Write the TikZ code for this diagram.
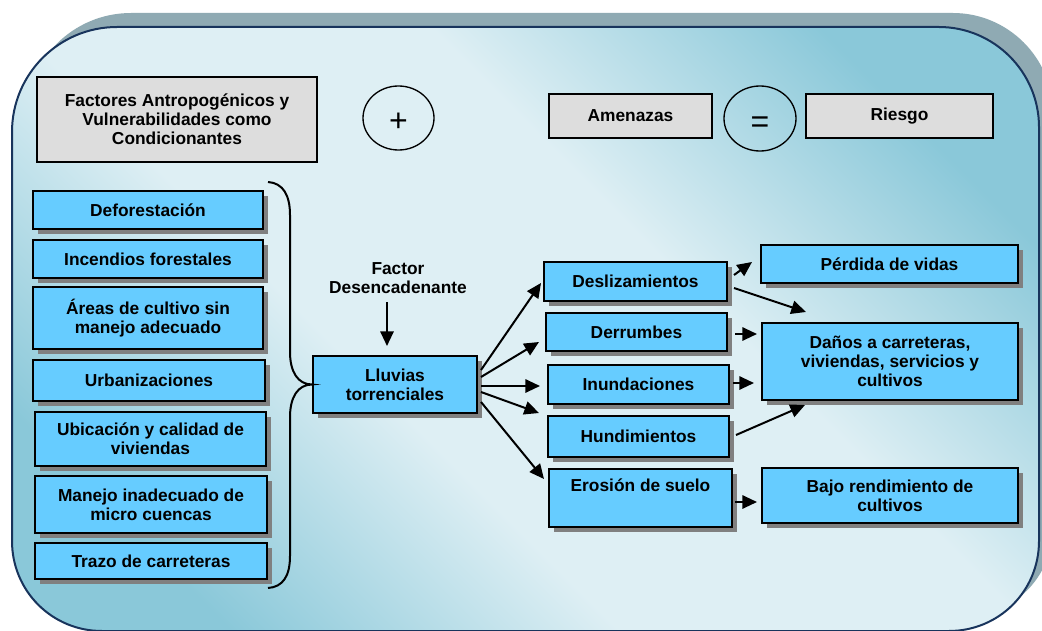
\documentclass[tikz,border=0pt]{standalone}
\usepackage{fontspec}
\setmainfont{Liberation Sans}
\usetikzlibrary{shapes.geometric,arrows.meta,calc,shadows}
\definecolor{bgdark}{RGB}{138,200,217}
\definecolor{bglight}{RGB}{222,239,244}
\definecolor{framec}{RGB}{24,52,92}
\definecolor{shadowc}{RGB}{143,170,179}
\definecolor{boxblue}{RGB}{102,204,255}
\definecolor{boxgray}{RGB}{221,221,221}
\pgfdeclareverticalshading{bgshade}{100bp}{color(0bp)=(bgdark); color(24bp)=(bgdark);
  color(41bp)=(bglight); color(59bp)=(bglight); color(76bp)=(bgdark); color(100bp)=(bgdark)}
\begin{document}
\begin{tikzpicture}[x=0.75pt,y=-0.75pt,
  font=\fontsize{13}{14.25}\selectfont\bfseries,
  fbox/.style={draw=black, line width=1.5pt, fill=boxblue, align=center, inner sep=1pt,
    drop shadow={shadow xshift=3.75pt, shadow yshift=-3.75pt, fill=black!50, opacity=1}},
  gbox/.style={draw=black, line width=1.3pt, fill=boxgray, align=center, inner sep=1pt},
  circ/.style={ellipse, draw=black, line width=1pt, inner sep=0pt},
  optext/.style={font=\fontsize{24}{24}\selectfont\mdseries, inner sep=0pt},
  arr/.style={line width=1.5pt, -{Triangle[length=11pt,width=10pt]}},
  bracel/.style={line width=1.5pt}
]
\useasboundingbox (0,0) rectangle (1042,631);
\fill[white] (0,0) rectangle (1042,631);
% shadow of frame
\begin{scope}[shift={(14,-14)}]
\fill[shadowc] (12,132) .. controls (12,74) and (59,27) .. (117,27) -- (939,27)
  .. controls (994,27) and (1039,72) .. (1039,127) -- (1039,541)
  .. controls (1039,591) and (999,631) .. (949,631) -- (102,631)
  .. controls (52,631) and (12,591) .. (12,541) -- cycle;
\end{scope}
% frame
\shadedraw[draw=framec, line width=1.5pt, shading=bgshade, shading angle=-45]
  (12,132) .. controls (12,74) and (59,27) .. (117,27) -- (939,27)
  .. controls (994,27) and (1039,72) .. (1039,127) -- (1039,541)
  .. controls (1039,591) and (999,631) .. (949,631) -- (102,631)
  .. controls (52,631) and (12,591) .. (12,541) -- cycle;

% top row
\node[gbox, minimum width=210pt, minimum height=63.75pt] (fac) at (177,119.5)
  {Factores Antropogénicos y\\Vulnerabilidades como\\Condicionantes};
\node[circ, minimum width=53.25pt, minimum height=48pt] (plus) at (398.5,118) {};
\node[optext] (plust) at (398.5,122.5) {+};
\node[gbox, minimum width=122.25pt, minimum height=33pt] (amen) at (630.5,116) {Amenazas};
\node[circ, minimum width=54pt, minimum height=48.75pt] (eq) at (760,118.5) {};
\node[optext] (eqt) at (760,125) {=};
\node[gbox, minimum width=140.25pt, minimum height=33pt] (ries) at (899.5,116) {Riesgo};

% left column
\node[fbox, minimum width=172.5pt, minimum height=28.5pt] (defo) at (148,210) {Deforestación};
\node[fbox, minimum width=172.5pt, minimum height=28.5pt] (ince) at (148,259) {Incendios forestales};
\node[fbox, minimum width=172.5pt, minimum height=46.5pt] (area) at (148,318) {Áreas de cultivo sin\\manejo adecuado};
\node[fbox, minimum width=174pt, minimum height=30.75pt] (urba) at (149,380.5) {Urbanizaciones};
\node[fbox, minimum width=173.25pt, minimum height=40.5pt] (ubic) at (150.5,439) {Ubicación y calidad de\\viviendas};
\node[fbox, minimum width=174pt, minimum height=42.75pt] (mane) at (151,504.5) {Manejo inadecuado de\\micro cuencas};
\node[fbox, minimum width=174pt, minimum height=27pt] (traz) at (151,561) {Trazo de carreteras};

% centre
\node[fbox, minimum width=123pt, minimum height=42.75pt] (ll) at (395,384.5) {Lluvias\\torrenciales};
\node[align=center, inner sep=0pt] (fd) at (398,278) {Factor\\Desencadenante};

% middle column
\node[fbox, minimum width=137.25pt, minimum height=29.25pt] (desl) at (635.5,281.5) {Deslizamientos};
\node[fbox, minimum width=135.75pt, minimum height=28.5pt] (derr) at (636.5,332) {Derrumbes};
\node[fbox, minimum width=135.75pt, minimum height=29.25pt] (inun) at (638.5,384.5) {Inundaciones};
\node[fbox, minimum width=135.75pt, minimum height=30.75pt] (hund) at (638.5,436.5) {Hundimientos};
\node[fbox, minimum width=137.25pt, minimum height=43.5pt] (eros) at (640.5,498) {Erosión de suelo\\[1pt]\strut};

% right column
\node[fbox, minimum width=192.75pt, minimum height=28.5pt] (perd) at (889.5,264) {Pérdida de vidas};
\node[fbox, minimum width=192pt, minimum height=57.75pt] (dano) at (890,361.5) {Daños a carreteras,\\viviendas, servicios y\\cultivos};
\node[fbox, minimum width=192pt, minimum height=41.25pt] (bajo) at (890,495.5) {Bajo rendimiento de\\cultivos};

% brace
\coordinate (braceTop) at (268,182);
\coordinate (braceBot) at (268,588);
\draw[bracel] (braceTop) .. controls (283,183) and (290,195) .. (290,215) -- (290,352)
  .. controls (290,372) and (298,384.5) .. (ll.west)
  .. controls (298,384.5) and (290,397) .. (290,417) -- (290,556)
  .. controls (290,576) and (283,587) .. (braceBot);

% arrows
\draw[arr] ($(ll.north)+(-8,-53)$) -- ($(ll.north)+(-8,-9)$);
\draw[arr] ($(ll.east)+(3,-14.5)$) -- ($(desl.west)+(-2,1.5)$);
\draw[arr] ($(ll.east)+(3,-7.5)$) -- ($(derr.west)+(-6,10)$);
\draw[arr] ($(ll.east)+(3,1.5)$) -- ($(inun.west)+(-7,1.5)$);
\draw[arr] ($(ll.east)+(3,7.5)$) -- ($(hund.west)+(-8,-23.5)$);
\draw[arr] ($(ll.east)+(3,17.5)$) -- ($(eros.north west)+(-4,11)$);

\draw[arr] ($(desl.east)+(6,-6.5)$) -- ($(perd.west)+(-8,-2)$);
\draw[arr] ($(desl.east)+(6,6.5)$) -- ($(dano.north west)+(45,-10)$);
\draw[arr] ($(derr.east)+(7,2)$) -- ($(dano.west)+(-4,-27.5)$);
\draw[arr] ($(inun.east)+(3,-1.5)$) -- ($(dano.west)+(-7,21.5)$);
\draw[arr] ($(hund.east)+(6,-1.5)$) -- ($(dano.south west)+(44,4)$);
\draw[arr] ($(eros.east)+(2,4)$) -- ($(bajo.west)+(-4,6.5)$);
\end{tikzpicture}
\end{document}
